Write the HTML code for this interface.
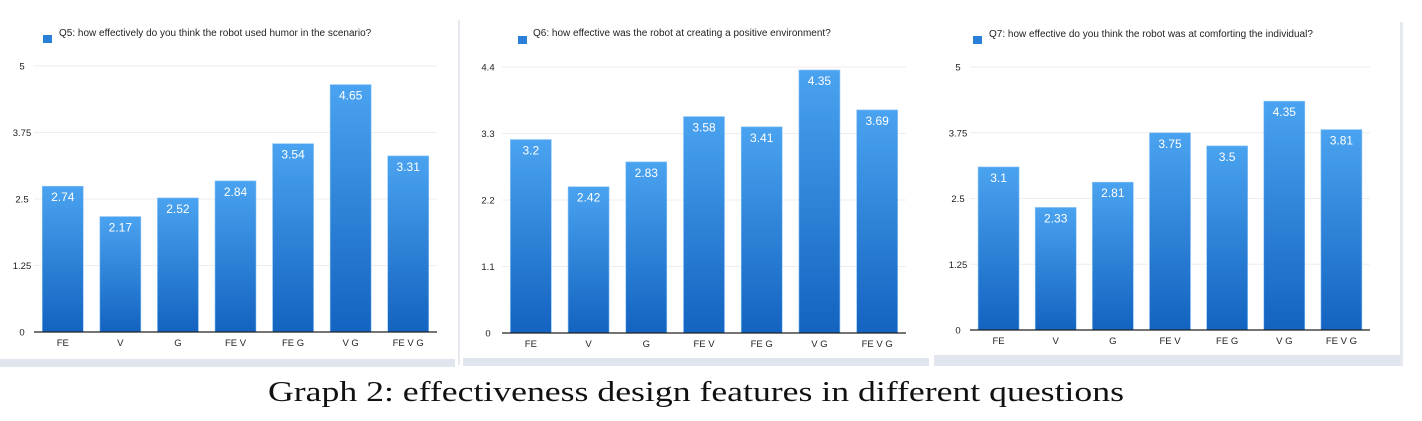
<!DOCTYPE html>
<html><head><meta charset="utf-8"><style>
html,body{margin:0;padding:0;background:#fff;}
body{width:1422px;height:421px;position:relative;overflow:hidden;font-family:"Liberation Sans",sans-serif;}
svg{position:absolute;left:0;top:0;}
</style></head><body>
<svg id="chart" width="1422" height="421">
<defs><linearGradient id="bg" x1="0" y1="0" x2="0" y2="1"><stop offset="0" stop-color="#4aa3f0"/><stop offset="1" stop-color="#1363c0"/></linearGradient></defs>
<rect x="0" y="359" width="455" height="8" fill="#e1e5ee"/>
<rect x="458" y="20" width="2" height="345" fill="#e6e9f0"/>
<rect x="463" y="358" width="466" height="8" fill="#e1e5ee"/>
<rect x="934" y="355" width="467" height="11" fill="#e1e5ee"/>
<rect x="1400" y="22" width="3" height="344" fill="#e6e9f0"/>
<text x="268" y="401" textLength="856" lengthAdjust="spacingAndGlyphs" font-family="Liberation Serif,serif" font-size="29" fill="#111">Graph 2: effectiveness design features in different questions</text>
</svg>
<script>
const categories=["FE","V","G","FE V","FE G","V G","FE V G"];
const q5Values=[2.74,2.17,2.52,2.84,3.54,4.65,3.31];
const q6Values=[3.2,2.42,2.83,3.58,3.41,4.35,3.69];
const q7Values=[3.1,2.33,2.81,3.75,3.5,4.35,3.81];
const q5Ticks=["0","1.25","2.5","3.75","5"];
const q6Ticks=["0","1.1","2.2","3.3","4.4"];
const q7Ticks=["0","1.25","2.5","3.75","5"];
const titles=["Q5: how effectively do you think the robot used humor in the scenario?","Q6: how effective was the robot at creating a positive environment?","Q7: how effective do you think the robot was at comforting the individual?"];
const svg=document.getElementById('chart');
const NS='http://www.w3.org/2000/svg';
function mk(tag,attrs,parent){const e=document.createElementNS(NS,tag);for(const k in attrs)e.setAttribute(k,attrs[k]);(parent||svg).appendChild(e);return e;}
const panels=[
 {vals:q5Values,ticks:q5Ticks,max:5,x0:34,x1:437,y0:332,yTop:66,lx:22,sq:[43,35],tt:[59,36],name:'q5'},
 {vals:q6Values,ticks:q6Ticks,max:4.4,x0:502,x1:906,y0:333,yTop:67,lx:488,sq:[518,36],tt:[533,36],name:'q6'},
 {vals:q7Values,ticks:q7Ticks,max:5,x0:970,x1:1370,y0:330,yTop:67,lx:958,sq:[973,36],tt:[989,37],name:'q7'}
];
panels.forEach((p,pi)=>{
 const g=mk('g',{});
 
 
 const y=v=>p.y0-(v/p.max)*(p.y0-p.yTop);
 const slot=(p.x1-p.x0)/categories.length;
 const lg=mk('rect',{x:p.sq[0],y:p.sq[1],width:9,height:8,fill:'#2a7fd8'},g);
 
 
 const t=mk('text',{x:p.tt[0],y:p.tt[1],'font-size':10,fill:'#222'},g);
 t.textContent=titles[pi];
 
 
 p.ticks.forEach(tk=>{
  const v=parseFloat(tk);const yy=y(v);
  if(v>0){const gl=mk('line',{x1:p.x0,x2:p.x1,y1:yy,y2:yy,stroke:'#eeeeee','stroke-width':1},g);
   }
  const tl=mk('text',{x:p.lx,y:yy+3.5,'font-size':9.5,fill:'#222','text-anchor':'middle'},g);
  tl.textContent=tk;
  
  
 });
 categories.forEach((c,i)=>{
  const v=p.vals[i];const bx=p.x0+slot*i+(slot-41)/2;const by=y(v);
  const b=mk('rect',{x:bx,y:by,width:41,height:p.y0-by,fill:'url(#bg)',stroke:'#8cc4f5','stroke-width':0.6},g);
  
  
  const vl=mk('text',{x:bx+20.5,y:by+15,'font-size':12,fill:'#fff','text-anchor':'middle'},g);
  vl.textContent=String(v);
  
  
  const xl=mk('text',{x:bx+20.5,y:p.y0+14,'font-size':9.5,fill:'#222','text-anchor':'middle'},g);
  xl.textContent=c;
  
  
 });
 const ax=mk('line',{x1:p.x0,x2:p.x1,y1:p.y0,y2:p.y0,stroke:'#222','stroke-width':1.2},g);
 
 
});
</script>
</body></html>
